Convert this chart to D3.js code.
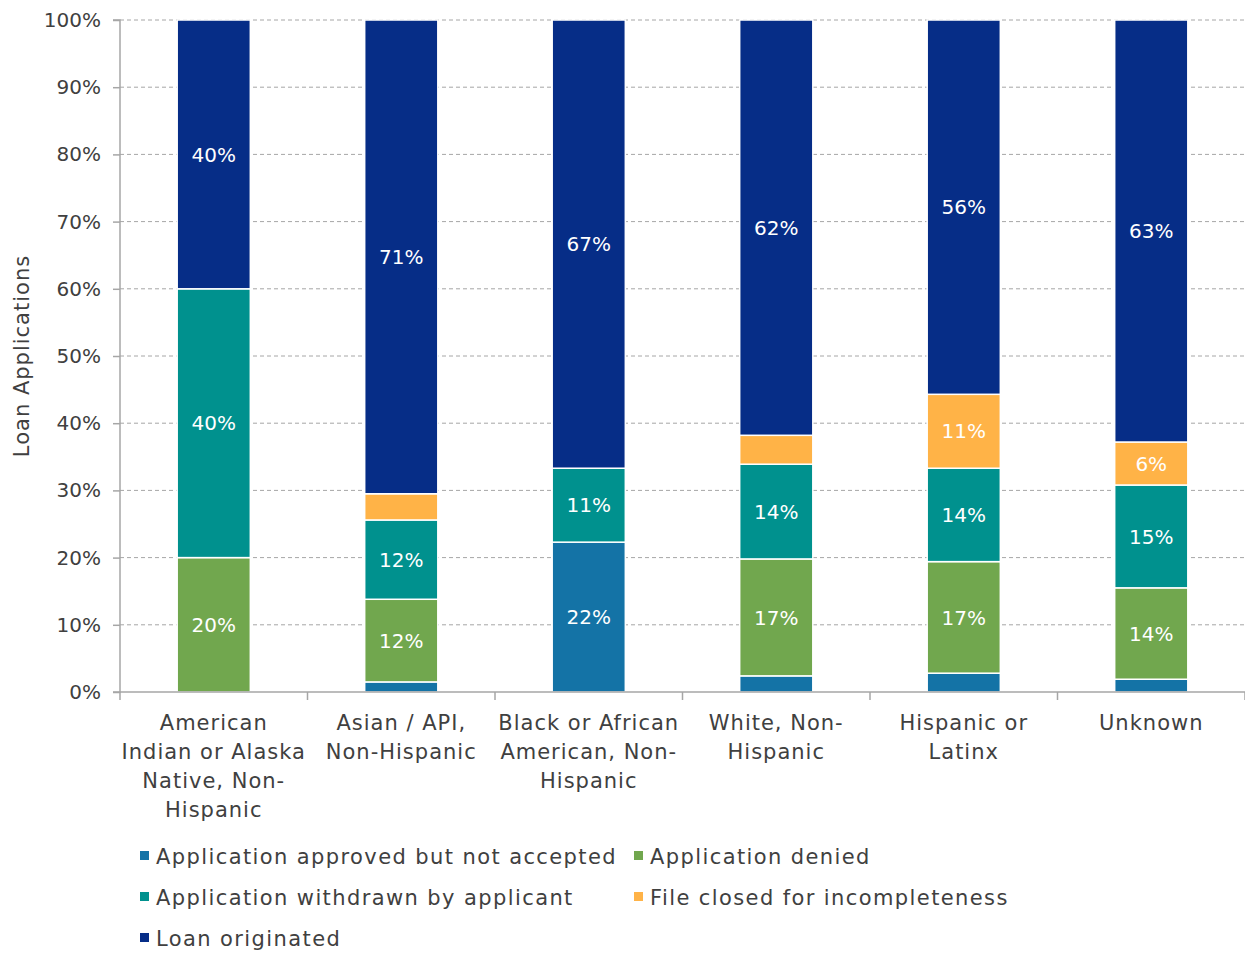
<!DOCTYPE html>
<html>
<head>
<meta charset="utf-8">
<script src="https://cdn.jsdelivr.net/npm/d3@7"></script>
<style>
  html, body { margin: 0; padding: 0; background: #fff; }
  svg { display: block; }
  text { font-family: "DejaVu Sans", sans-serif; }
</style>
</head>
<body>
<svg id="chart" width="1245" height="954"></svg>
<script>
// ---- Data ----
const categories = [
  "American Indian or Alaska Native, Non-Hispanic",
  "Asian / API, Non-Hispanic",
  "Black or African American, Non-Hispanic",
  "White, Non-Hispanic",
  "Hispanic or Latinx",
  "Unknown"
];
const categoryLines = [
  ["American", "Indian or Alaska", "Native, Non-", "Hispanic"],
  ["Asian / API,", "Non-Hispanic"],
  ["Black or African", "American, Non-", "Hispanic"],
  ["White, Non-", "Hispanic"],
  ["Hispanic or", "Latinx"],
  ["Unknown"]
];
const seriesNames = [
  "Application approved but not accepted",
  "Application denied",
  "Application withdrawn by applicant",
  "File closed for incompleteness",
  "Loan originated"
];
const approvedNotAccepted = [0, 1.5, 22.3, 2.4, 2.8, 1.9];
const denied              = [20, 12.3, 0, 17.4, 16.6, 13.6];
const withdrawn           = [40, 11.8, 11.0, 14.1, 13.9, 15.3];
const incomplete          = [0, 3.9, 0, 4.3, 11.0, 6.4];
const originated          = [40, 70.5, 66.7, 61.8, 55.7, 62.8];
const yTicks = [0, 10, 20, 30, 40, 50, 60, 70, 80, 90, 100];
const colors = ["#1473A6", "#71A74E", "#00918E", "#FFB347", "#062D87"];

const seriesValues = [approvedNotAccepted, denied, withdrawn, incomplete, originated];
const keys = ["s0", "s1", "s2", "s3", "s4"];
const rows = categories.map((c, i) => {
  const r = { category: c };
  keys.forEach((k, j) => r[k] = seriesValues[j][i]);
  return r;
});

// ---- Layout ----
const svg = d3.select("#chart");
const margin = { left: 120, right: 0, top: 20, bottom: 262 };
const W = 1245, H = 954;
const x = d3.scaleBand().domain(categories).range([margin.left, W - margin.right]).paddingInner(0.61).paddingOuter(0.305);
const y = d3.scaleLinear().domain([0, 100]).range([692, 20]);

// grid
svg.append("g").selectAll("line").data(yTicks.filter(t => t > 0)).join("line")
  .attr("x1", margin.left).attr("x2", W)
  .attr("y1", d => y(d)).attr("y2", d => y(d))
  .attr("stroke", "#a6a6a6").attr("stroke-width", 1).attr("stroke-dasharray", "4,3");

// stacks
const stack = d3.stack().keys(keys);
const stacked = stack(rows);
const g = svg.append("g");
stacked.forEach((layer, li) => {
  g.append("g").selectAll("rect").data(layer).join("rect")
    .attr("x", d => x(d.data.category))
    .attr("width", x.bandwidth())
    .attr("y", d => y(d[1]))
    .attr("height", d => Math.max(0, y(d[0]) - y(d[1])))
    .attr("fill", colors[li])
    .attr("stroke", d => (d[1] - d[0]) > 0 ? "#fff" : "none")
    .attr("stroke-width", 1.5);
});
// labels
stacked.forEach((layer) => {
  g.append("g").selectAll("text").data(layer.filter(d => d[1] - d[0] >= 5)).join("text")
    .attr("x", d => x(d.data.category) + x.bandwidth() / 2)
    .attr("y", d => (y(d[0]) + y(d[1])) / 2)
    .attr("dy", "0.36em")
    .attr("text-anchor", "middle")
    .attr("fill", "#fff")
    .attr("font-size", 20)
    .text(d => Math.round(d[1] - d[0]) + "%");
});

// y axis
const yAxis = d3.axisLeft(y).tickValues(yTicks).tickFormat(d => d + "%").tickSize(7).tickPadding(12);
const ya = svg.append("g").attr("transform", `translate(${margin.left},0)`).call(yAxis);
ya.select(".domain").attr("stroke", "#a6a6a6").attr("stroke-width", 1.5).attr("d", `M-7,20H0V692H-7`);
ya.selectAll(".tick line").attr("stroke", "#a6a6a6").attr("stroke-width", 1.5);
ya.selectAll(".tick text").attr("font-size", 20).attr("fill", "#404040").attr("font-family", "DejaVu Sans");

// x axis
const xa = svg.append("g").attr("transform", `translate(0,692)`);
xa.append("line").attr("x1", margin.left).attr("x2", W).attr("y1", 0).attr("y2", 0)
  .attr("stroke", "#a6a6a6").attr("stroke-width", 1.5);
const boundaries = d3.range(categories.length + 1).map(i => margin.left + i * (W - margin.left) / categories.length);
xa.selectAll("line.tk").data(boundaries).join("line").attr("class", "tk")
  .attr("x1", d => d).attr("x2", d => d).attr("y1", 0).attr("y2", 8)
  .attr("stroke", "#a6a6a6").attr("stroke-width", 1.5);
categories.forEach((c, i) => {
  const cx = x(c) + x.bandwidth() / 2;
  const t = xa.append("text")
    .attr("x", cx)
    .attr("y", 38)
    .attr("text-anchor", "middle")
    .attr("font-size", 21)
    .attr("letter-spacing", 1)
    .attr("fill", "#404040");
  categoryLines[i].forEach((ln, k) => {
    t.append("tspan").attr("x", cx).attr("dy", k === 0 ? 0 : 29).text(ln);
  });
});

// y title
svg.append("text")
  .attr("transform", "translate(29,356) rotate(-90)")
  .attr("text-anchor", "middle")
  .attr("font-size", 21)
  .attr("letter-spacing", 1)
  .attr("fill", "#404040")
  .text("Loan Applications");

// legend
const legendPos = [[140, 856], [634, 856], [140, 897], [634, 897], [140, 938]];
const lg = svg.append("g");
seriesNames.forEach((n, i) => {
  const [lx, ly] = legendPos[i];
  lg.append("rect").attr("x", lx).attr("y", ly - 5).attr("width", 9).attr("height", 9).attr("fill", colors[i]);
  lg.append("text").attr("x", lx + 16).attr("y", ly).attr("dy", "0.36em")
    .attr("font-size", 21).attr("letter-spacing", 1.4).attr("fill", "#404040").text(n);
});
</script>
</body>
</html>
